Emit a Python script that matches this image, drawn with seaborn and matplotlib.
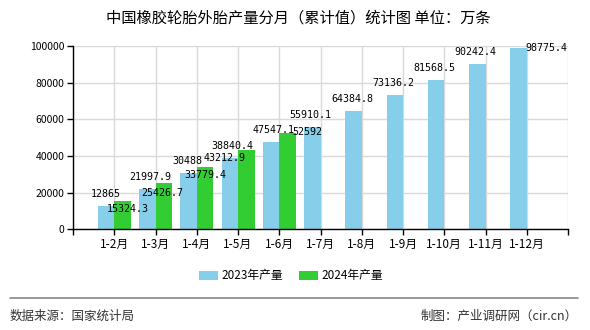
import matplotlib
matplotlib.use("Agg")
import matplotlib.pyplot as plt
import seaborn as sns
import pandas as pd
import numpy as np
from matplotlib.patches import Patch

months = ["1-2月", "1-3月", "1-4月", "1-5月", "1-6月", "1-7月", "1-8月", "1-9月", "1-10月", "1-11月", "1-12月"]
v2023 = [12865, 21997.9, 30488, 38840.4, 47547.1, 55910.1, 64384.8, 73136.2, 81568.5, 90242.4, 98775.4]
v2024 = [15324.3, 25426.7, 33779.4, 43212.9, 52592]
series = ["2023年产量", "2024年产量"]
yticks = [0, 20000, 40000, 60000, 80000, 100000]

# label offsets in pixels (style only)
dx23 = [0, 3, -1, 3, 3, -2, -1, -1, -2, -2, 28]
dy23 = [12, 12, 12, 12, 12, 12, 12, 12, 12, 12, 0]
dx24 = [5, -1, 0, -22, 20]
dy24 = [-8, -10, -8, -8, 1]

sns.set_theme(style="white")
plt.rcParams['font.family'] = ['Noto Sans CJK SC', 'DejaVu Sans']
plt.rcParams['text.color'] = 'black'
plt.rcParams['xtick.color'] = 'black'
plt.rcParams['ytick.color'] = 'black'

rows = [(m, v, series[0]) for m, v in zip(months, v2023)] + \
       [(m, v, series[1]) for m, v in zip(months, v2024)]
df = pd.DataFrame(rows, columns=["month", "value", "series"])

fig = plt.figure(figsize=(5.9, 3.3), dpi=100)
ax = fig.add_axes([73/590, 1-229.3/330, (568-73)/590, (229.3-46)/330])

blue = "#87CEEB"
green = "#32CD32"
sns.barplot(data=df, x="month", y="value", hue="series", order=months,
            hue_order=series, palette=[blue, green], width=0.8,
            ax=ax, legend=False, saturation=1, errorbar=None, linewidth=0)

ax.set_xlim(-1, 11)
ax.set_ylim(0, 100000)
ax.set_yticks(yticks)
ax.set_yticklabels([str(t) for t in yticks], fontsize=7.5)
ax.set_xticks(range(-1, 12))
ax.set_xticklabels([""] + months + [""], fontsize=8.5)
ax.set_xlabel("")
ax.set_ylabel("")
ax.grid(True, color="#d9d9d9", linewidth=1)
ax.set_axisbelow(True)
for s in ["top", "right"]:
    ax.spines[s].set_visible(False)
for s in ["left", "bottom"]:
    ax.spines[s].set_color("black")
    ax.spines[s].set_linewidth(1)
ax.tick_params(axis="both", which="both", length=4, width=1, color="black",
               direction="out", pad=2, bottom=True, left=True, labelcolor="black")

# data labels
for i, v in enumerate(v2023):
    ax.annotate(f"{v:g}", (i - 0.2, v), xytext=(dx23[i], dy23[i]),
                textcoords="offset pixels", ha="center", va="center",
                fontsize=7.2, family="DejaVu Sans Mono", color="black")
for i, v in enumerate(v2024):
    ax.annotate(f"{v:g}", (i + 0.2, v), xytext=(dx24[i], dy24[i]),
                textcoords="offset pixels", ha="center", va="center",
                fontsize=7.2, family="DejaVu Sans Mono", color="black")

# legend
handles = [Patch(facecolor=blue, edgecolor="none"), Patch(facecolor=green, edgecolor="none")]
fig.legend(handles, series, loc="center", bbox_to_anchor=(291/590, 1-276/330), ncol=2,
           frameon=False, fontsize=8.5, handlelength=1.6, handleheight=0.75,
           handletextpad=0.3, columnspacing=1.3)

# title
fig.text(298/590, 1-18/330, "中国橡胶轮胎外胎产量分月（累计值）统计图 单位：万条",
         ha="center", va="center", fontsize=11, color="black")

# footer
fig.add_artist(plt.Line2D([10/590, 578/590], [1-298/330, 1-298/330],
                          transform=fig.transFigure, color="#888888", linewidth=1.2))
fig.text(10/590, 1-316/330, "数据来源：国家统计局", ha="left", va="center",
         fontsize=9, color="#333333")
fig.text(578/590, 1-316/330, "制图：产业调研网（cir.cn）", ha="right", va="center",
         fontsize=9, color="#333333")

fig.savefig("out.png", dpi=100)
